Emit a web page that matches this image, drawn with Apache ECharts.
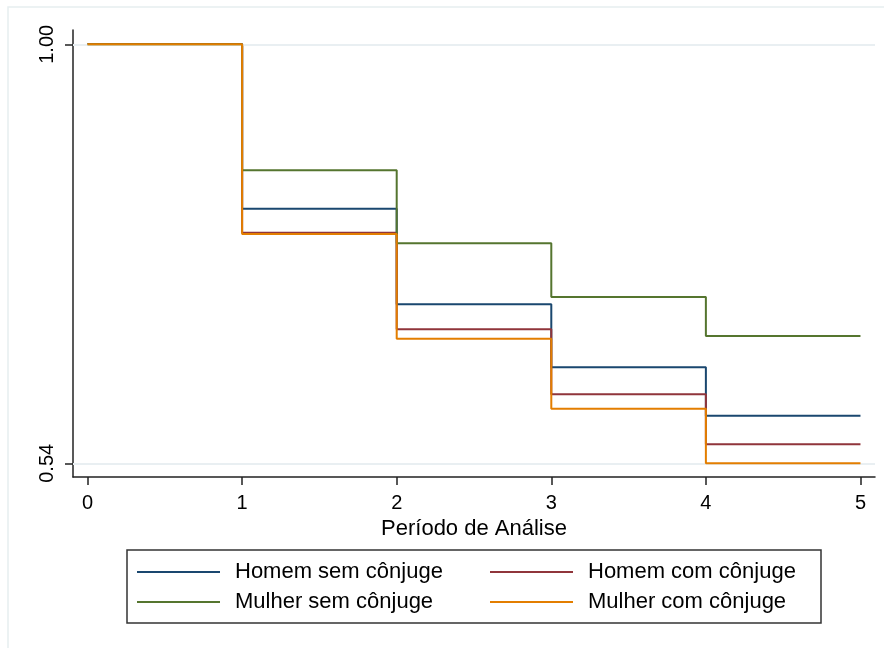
<!DOCTYPE html>
<html>
<head>
<meta charset="utf-8">
<script src="https://cdn.jsdelivr.net/npm/echarts@6/dist/echarts.min.js"></script>
<style>
html,body{margin:0;padding:0;background:#fff;}
#chart{width:884px;height:648px;}
</style>
</head>
<body>
<div id="chart"></div>
<script>
// Data (Kaplan-Meier style step curves)
const periods = [0, 1, 2, 3, 4, 5];
const xTicks = [0, 1, 2, 3, 4, 5];
const yTicks = [0.54, 1.00];
const seriesNames = ['Homem sem cônjuge', 'Homem com cônjuge', 'Mulher sem cônjuge', 'Mulher com cônjuge'];
const homemSem   = [1.00, 0.8195, 0.7146, 0.6454, 0.5923, 0.5923];
const homemCom   = [1.00, 0.7932, 0.6871, 0.6158, 0.5609, 0.5609];
const mulherSem  = [1.00, 0.8617, 0.7815, 0.7226, 0.6798, 0.6798];
const mulherCom  = [1.00, 0.7917, 0.6768, 0.6000, 0.5400, 0.5400];
const xTitle = 'Período de Análise';

const colors = ['#1a476f', '#90353b', '#55752f', '#e37e00'];
const valueSets = [homemSem, homemCom, mulherSem, mulherCom];
const FONT = '"Liberation Sans", Arial, sans-serif';

const chart = echarts.init(document.getElementById('chart'), null, {renderer: 'canvas'});

const series = valueSets.map((vals, i) => ({
  name: seriesNames[i],
  type: 'line',
  step: 'end',
  data: periods.map((p, j) => [p, vals[j]]),
  showSymbol: false,
  symbol: 'none',
  lineStyle: {color: colors[i], width: 2},
  itemStyle: {color: colors[i]},
  z: 3 + i,
  animation: false
}));

// gridlines at the tick values
series.unshift({
  name: '__grid',
  type: 'line',
  data: [],
  silent: true,
  z: 1,
  markLine: {
    silent: true,
    symbol: 'none',
    label: {show: false},
    lineStyle: {color: '#e9eff2', width: 2, type: 'solid'},
    data: yTicks.map(v => ({yAxis: v}))
  }
});

function legendAt(name, left, top) {
  return {
    data: [{name: name, icon: 'rect'}],
    left: left,
    top: top,
    padding: 0,
    itemWidth: 83,
    itemHeight: 2,
    selectedMode: false,
    textStyle: {fontFamily: FONT, fontSize: 22, color: '#000', padding: [0, 0, 0, 10]}
  };
}

chart.setOption({
  animation: false,
  backgroundColor: '#ffffff',
  textStyle: {fontFamily: FONT},
  graphic: [
    {type: 'rect', shape: {x: 8, y: 7, width: 900, height: 700},
     style: {fill: 'none', stroke: '#e6eef0', lineWidth: 1.5}, z: 0, silent: true},
    {type: 'rect', shape: {x: 127, y: 550, width: 694, height: 73},
     style: {fill: 'none', stroke: '#333333', lineWidth: 1.5}, z: 10, silent: true}
  ],
  grid: {left: 73, right: 9, top: 30, bottom: 171, containLabel: false},
  xAxis: {
    type: 'value',
    min: -0.094,
    max: 5.094,
    name: xTitle,
    nameLocation: 'middle',
    nameGap: 37,
    nameTextStyle: {fontFamily: FONT, fontSize: 22, color: '#000'},
    axisLine: {show: true, onZero: false, lineStyle: {color: '#222', width: 1.5}},
    axisTick: {show: true, length: 8, customValues: xTicks, lineStyle: {color: '#222', width: 1.5}},
    axisLabel: {customValues: xTicks, fontFamily: FONT, fontSize: 20, color: '#000', margin: 16,
                formatter: v => String(v)},
    splitLine: {show: false}
  },
  yAxis: {
    type: 'value',
    min: 0.52496,
    max: 1.0157,
    axisLine: {show: true, onZero: false, lineStyle: {color: '#222', width: 1.5}},
    axisTick: {show: true, length: 8, customValues: yTicks, lineStyle: {color: '#222', width: 1.5}},
    axisLabel: {customValues: yTicks, fontFamily: FONT, fontSize: 20, color: '#000', margin: 16,
                rotate: 90, formatter: v => Number(v).toFixed(2)},
    splitLine: {show: false}
  },
  legend: [
    legendAt(seriesNames[0], 137, 561),
    legendAt(seriesNames[1], 490, 561),
    legendAt(seriesNames[2], 137, 591),
    legendAt(seriesNames[3], 490, 591)
  ],
  series: series
});
</script>
</body>
</html>
